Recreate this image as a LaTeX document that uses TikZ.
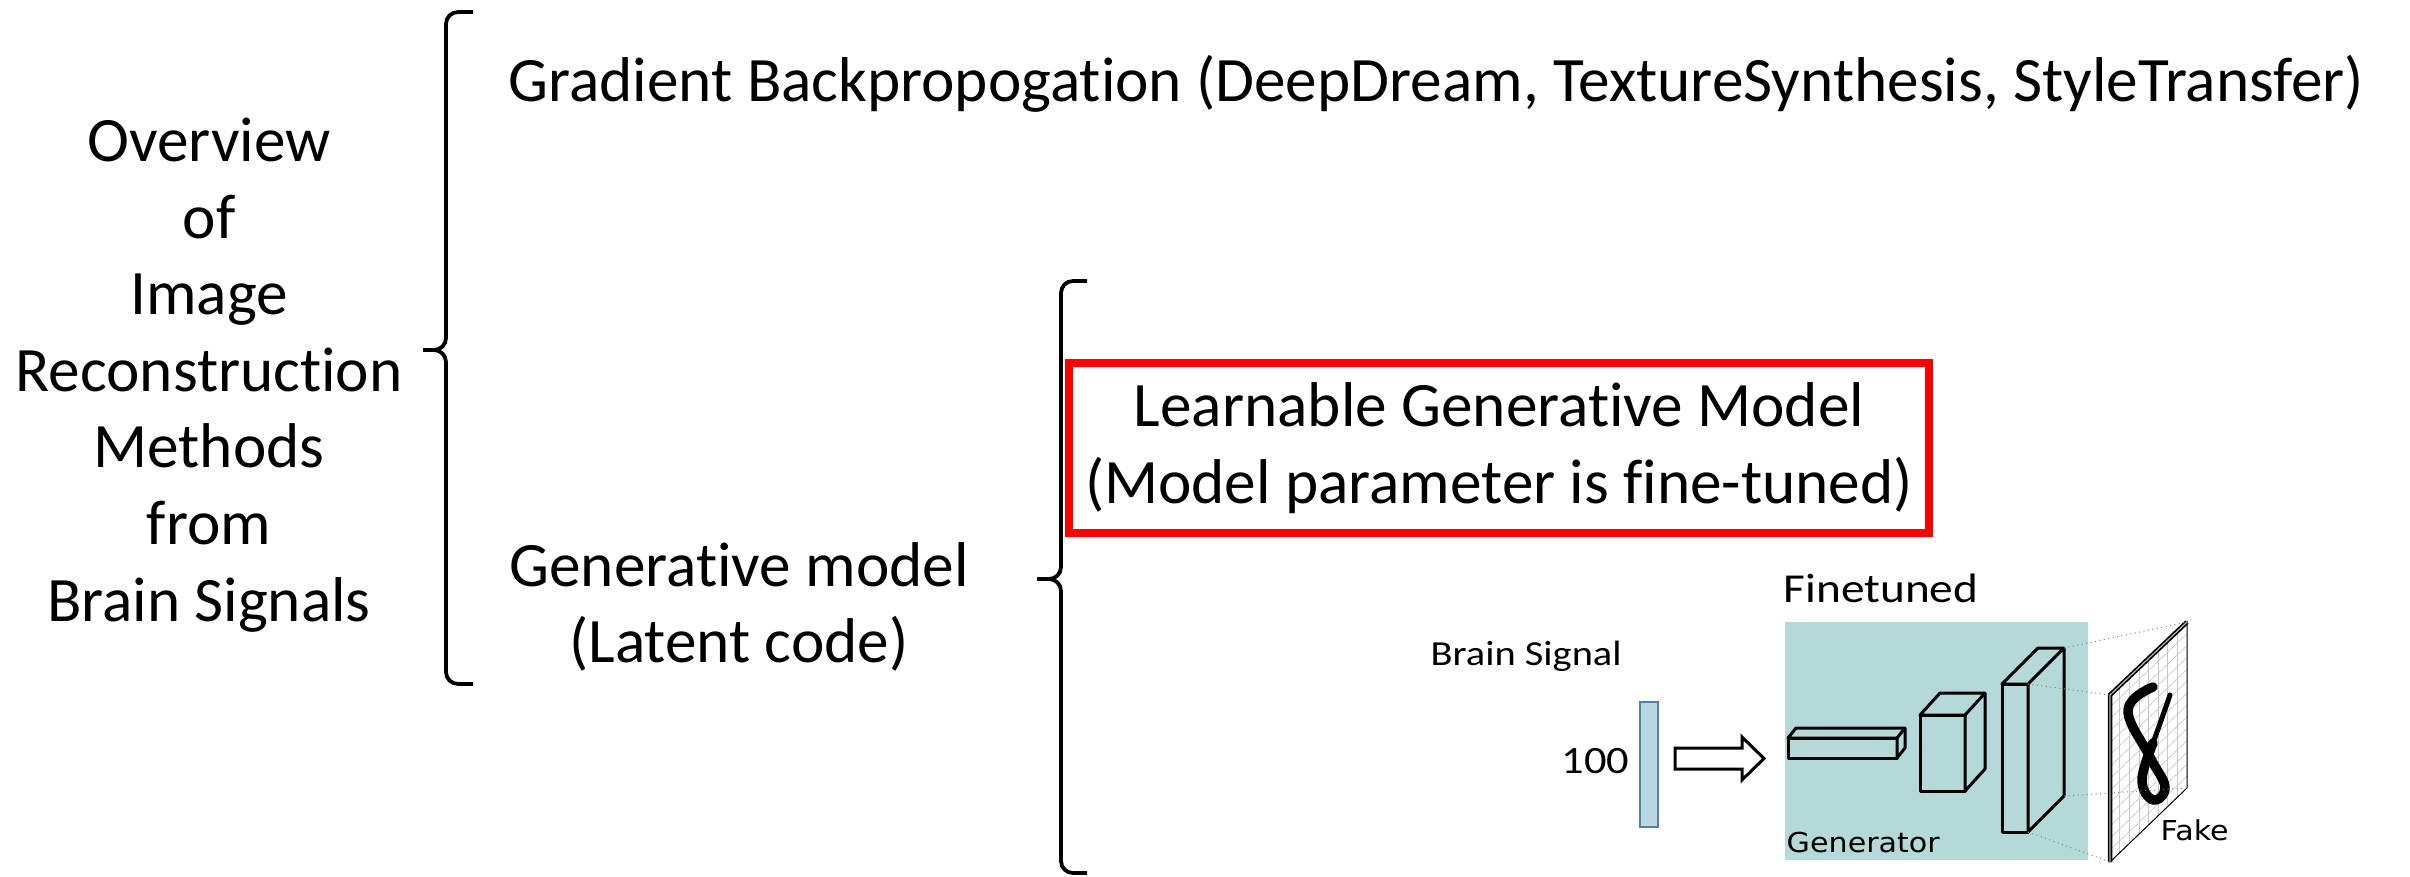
\documentclass[tikz,border=0pt]{standalone}
\usepackage{fontspec}
\setmainfont{Carlito}[Ligatures={NoCommon,NoContextual}]
\newfontfamily\figfont{Carlito}[FakeStretch=1.15, Ligatures={NoCommon,NoContextual}]
\newfontfamily\ganfont{DejaVu Sans}[FakeStretch=1.1]
\usepackage{tikz}
\usetikzlibrary{positioning,calc}

\definecolor{gencyan}{RGB}{180,217,216}
\definecolor{barblue}{RGB}{182,216,222}
\definecolor{baredge}{RGB}{84,126,176}

% keep t and i as two glyphs
\newcommand{\tI}{t\kern0pt i}

\tikzset{
  bracket/.style={line width=0.38mm, rounded corners=1.2mm},
  layer/.style={line width=0.3mm, line join=round, fill=gencyan},
  proj/.style={gray, densely dotted, line width=0.1mm},
  big/.style={font=\fontsize{18}{21.8}\selectfont, inner sep=0pt, align=center},
  small/.style={font=\figfont\fontsize{10}{12}\selectfont, inner sep=0pt},
  tiny/.style={font=\ganfont\fontsize{7.8}{9}\selectfont, inner sep=0pt},
}

% one generator layer: front face corners, then depth offset
\newcommand{\layerbox}[6]{%
  \draw[layer] (#1,#2) rectangle (#3,#4);
  \draw[layer] (#1,#2) -- ++(#5,#6) -- ++({#3-#1},0) -- ++(0,{#4-#2}) -- (#3,#4) -- (#3,#2) -- cycle;
  \draw[layer] (#3,#2) -- ++(#5,#6);
}

\begin{document}
\begin{tikzpicture}[x=0.1mm, y=-0.1mm]
    \useasboundingbox (0,0) rectangle (2410,877);

    % Left column and outer brace
    \node[big] (overview) at (209,375) {Overview\\of\\Image\\Reconstruc\tI on\\Methods\\from\\Brain Signals};
    \draw[bracket] (473,12) -| (446,350) -- (423,350);
    \draw[bracket] (423,350) -- (446,350) |- (473,684);

    % Two families of methods
    \node[big, anchor=base west] (gradient) at (508,102) {Gradient Backpropoga\tI on (DeepDream, TextureSynthesis, StyleTransfer)};
    \node[big] (genmodel) at (739,607) {Genera\tI ve model\\(Latent code)};

    % Inner brace
    \draw[bracket] (1087,281) -| (1061,579) -- (1037,579);
    \draw[bracket] (1037,579) -- (1061,579) |- (1087,873);

    \node[big, draw=red, line width=0.8mm, minimum width=86mm, minimum height=17mm] (learnable) at (1499,448) {Learnable Genera\tI ve Model\\(Model parameter is fine-tuned)};

    % Brain signal input
    \node[small, anchor=base west] (brain) at (1430,665) {Brain Signal};
    \node[draw=baredge, fill=barblue, line width=0.15mm, minimum width=1.8mm, minimum height=12.5mm, inner sep=0] (code) at (1649,764.5) {};
    \node[small, font=\figfont\fontsize{11}{13}\selectfont, anchor=base east] (dim) at (1630,773) {100};
    \draw[line width=0.3mm, fill=white] (1675,748) -- (1742,748) -- (1742,737) -- (1764,758.5) -- (1742,780) -- (1742,769) -- (1675,769) -- cycle;

    % Generator
    \node[fill=gencyan, minimum width=30.3mm, minimum height=23.8mm, inner sep=0] (genbox) at (1936.5,741) {};
    \node[small, font=\figfont\fontsize{11.7}{14}\selectfont, anchor=base west] (finetuned) at (1783,602) {Finetuned};
    \node[tiny, anchor=base west] (generator) at (1786,852) {Generator};
    \layerbox{1788}{738}{1897}{758}{8}{-10}
    \layerbox{1920}{715}{1965}{791}{20}{-22}
    \layerbox{2002}{684}{2028}{832}{36}{-36}
    \coordinate (c-ftr) at (2028,684);
    \coordinate (c-btr) at (2064,648);
    \coordinate (c-bbr) at (2064,796);
    \coordinate (c-fbr) at (2028,832);

    % Output image
    \coordinate (tl) at (2110,695);
    \coordinate (tr) at (2187,622);
    \coordinate (br) at (2187,788);
    \coordinate (bl) at (2110,862);
    \fill[white] (tl) -- (tr) -- (br) -- (bl) -- cycle;
    \foreach \i in {1,...,7}
        \draw[gray!45, line width=0.06mm] ($(tl)!\i/8!(tr)$) -- ($(bl)!\i/8!(br)$);
    \foreach \j in {1,...,13}
        \draw[gray!45, line width=0.06mm] ($(tl)!\j/14!(bl)$) -- ($(tr)!\j/14!(br)$);
    \draw[line width=0.95mm, line cap=round, line join=round] plot[smooth, tension=0.7] coordinates {(2153,687) (2128,710) (2150,757) (2165,787) (2153,800) (2142,780) (2153,743)};
    \draw[line width=0.5mm, line cap=round] plot[smooth, tension=0.7] coordinates {(2153,743) (2163,715) (2170,695)};
    \draw[line width=0.1mm] (tl) -- (tr) -- (br) -- (bl) -- cycle;
    \draw[line width=0.45mm] (bl) -- (tl) -- (tr);
    \draw[gray!60, line width=0.12mm] (bl) -- (tl) -- (tr);
    \draw[proj] (c-ftr) -- (tl);
    \draw[proj] (c-btr) -- (tr);
    \draw[proj] (c-bbr) -- (br);
    \draw[proj] (c-fbr) -- (bl);
    \node[tiny, anchor=base west] (fake) at (2160,840) {Fake};
\end{tikzpicture}
\end{document}
